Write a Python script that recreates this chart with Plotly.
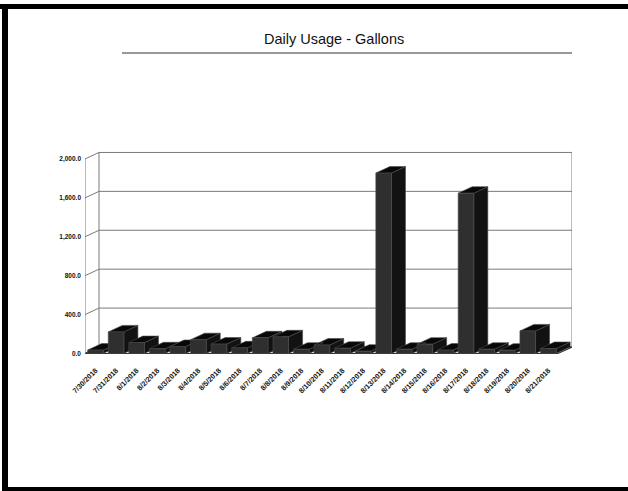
import plotly.graph_objects as go

# ---- data -------------------------------------------------------------
DATES = ["7/30/2018", "7/31/2018", "8/1/2018", "8/2/2018", "8/3/2018",
         "8/4/2018", "8/5/2018", "8/6/2018", "8/7/2018", "8/8/2018",
         "8/9/2018", "8/10/2018", "8/11/2018", "8/12/2018", "8/13/2018",
         "8/14/2018", "8/15/2018", "8/16/2018", "8/17/2018", "8/18/2018",
         "8/19/2018", "8/20/2018", "8/21/2018"]
GALLONS = [35, 222, 112, 48, 72, 142, 97, 58, 161, 171, 44, 87, 54, 24,
           1855, 44, 96, 35, 1648, 44, 34, 232, 51]
Y_TICKS = [0, 400, 800, 1200, 1600, 2000]

# ---- pseudo-3D geometry (data units) -------------------------------------
BAR_W = 0.76          # front-face width in category units
DX = 0.68             # depth offset to the right (category units)
DY = 67               # depth offset upward (gallons)
X0, X1 = -0.51, 22.47 # front floor edge
Y_MAX = Y_TICKS[-1]

# ---- page layout (pixels) -------------------------------------------------
W, H = 628, 491
L, R, T, B = 85, 56, 151, 131
PW, PH = W - L - R, H - T - B


def px_x(p):
    return (p - L) / PW


def px_y(p):
    return (H - B - p) / PH


fig = go.Figure()

# floor
fig.add_trace(go.Scatter(
    x=[X0, X1, X1 + DX, X0 + DX, X0], y=[0, 0, DY, DY, 0],
    mode="lines", fill="toself", fillcolor="white",
    line=dict(color="#333333", width=1.2), hoverinfo="skip"))

# back-wall gridlines and left-wall diagonals
gx, gy = [], []
for v in Y_TICKS[1:]:
    gx += [X0, X0 + DX, X1 + DX, None]
    gy += [v, v + DY, v + DY, None]
# wall edges
gx += [X0 + DX, X0 + DX, None, X1 + DX, X1 + DX, None]
gy += [DY, Y_MAX + DY, None, DY, Y_MAX + DY, None]
fig.add_trace(go.Scatter(x=gx, y=gy, mode="lines",
                         line=dict(color="#7a7a7a", width=1),
                         hoverinfo="skip"))

# front value axis
fig.add_trace(go.Scatter(x=[X0, X0], y=[0, Y_MAX], mode="lines",
                         line=dict(color="#777777", width=1),
                         hoverinfo="skip"))

# bar faces: sides, then tops, then fronts (nearest last)
sx, sy, tx, ty, fx, fy = [], [], [], [], [], []
for i, v in enumerate(GALLONS):
    a, b = i - BAR_W / 2, i + BAR_W / 2
    sx += [b, b, b + DX, b + DX, b, None]
    sy += [0, v, v + DY, DY, 0, None]
    tx += [a, b, b + DX, a + DX, a, None]
    ty += [v, v, v + DY, v + DY, v, None]
    fx += [a, b, b, a, a, None]
    fy += [0, 0, v, v, 0, None]

for xs, ys, col in [(sx, sy, "#121212"), (tx, ty, "#080808"),
                    (fx, fy, "#2f2f2f")]:
    fig.add_trace(go.Scatter(x=xs, y=ys, mode="lines", fill="toself",
                             fillcolor=col,
                             line=dict(color="#4a4a4a", width=0.6),
                             hoverinfo="skip"))

tick_font = dict(family="Liberation Sans", size=6.5, color="#111111",
                 weight="bold")
date_font = dict(family="Liberation Sans", size=7.2, color="#111111",
                 weight="bold")

fig.update_layout(
    width=W, height=H,
    margin=dict(l=L, r=R, t=T, b=B),
    paper_bgcolor="white", plot_bgcolor="white",
    showlegend=False,
    xaxis=dict(range=[X0, X1 + DX], tickvals=list(range(len(DATES))),
               ticktext=DATES, tickangle=-45, tickfont=date_font,
               showgrid=False, zeroline=False, showline=False, ticks="",
               ticklabelstandoff=4),
    yaxis=dict(range=[-67, 2082], tickvals=Y_TICKS, tickformat=",.1f",
               tickfont=tick_font, showgrid=False, zeroline=False,
               showline=False, ticks="", ticklabelstandoff=3),
    annotations=[dict(text="Daily Usage - Gallons", showarrow=False,
                      xref="paper", yref="paper",
                      x=px_x(334), y=px_y(39), xanchor="center",
                      yanchor="middle",
                      font=dict(family="Liberation Sans", size=14.5,
                                color="#111111"))],
    shapes=[
        # title rule
        dict(type="line", xref="paper", yref="paper",
             x0=px_x(122), x1=px_x(572), y0=px_y(53), y1=px_y(53),
             line=dict(color="#333333", width=1.2)),
        # page frame (top, left, bottom)
        dict(type="rect", xref="paper", yref="paper",
             x0=px_x(0), x1=px_x(W), y0=px_y(9), y1=px_y(4),
             fillcolor="black", line=dict(width=0)),
        dict(type="rect", xref="paper", yref="paper",
             x0=px_x(2), x1=px_x(8), y0=px_y(H), y1=px_y(4),
             fillcolor="black", line=dict(width=0)),
        dict(type="rect", xref="paper", yref="paper",
             x0=px_x(2), x1=px_x(W), y0=px_y(H), y1=px_y(487),
             fillcolor="black", line=dict(width=0)),
    ],
)

fig.write_html("out.html")
